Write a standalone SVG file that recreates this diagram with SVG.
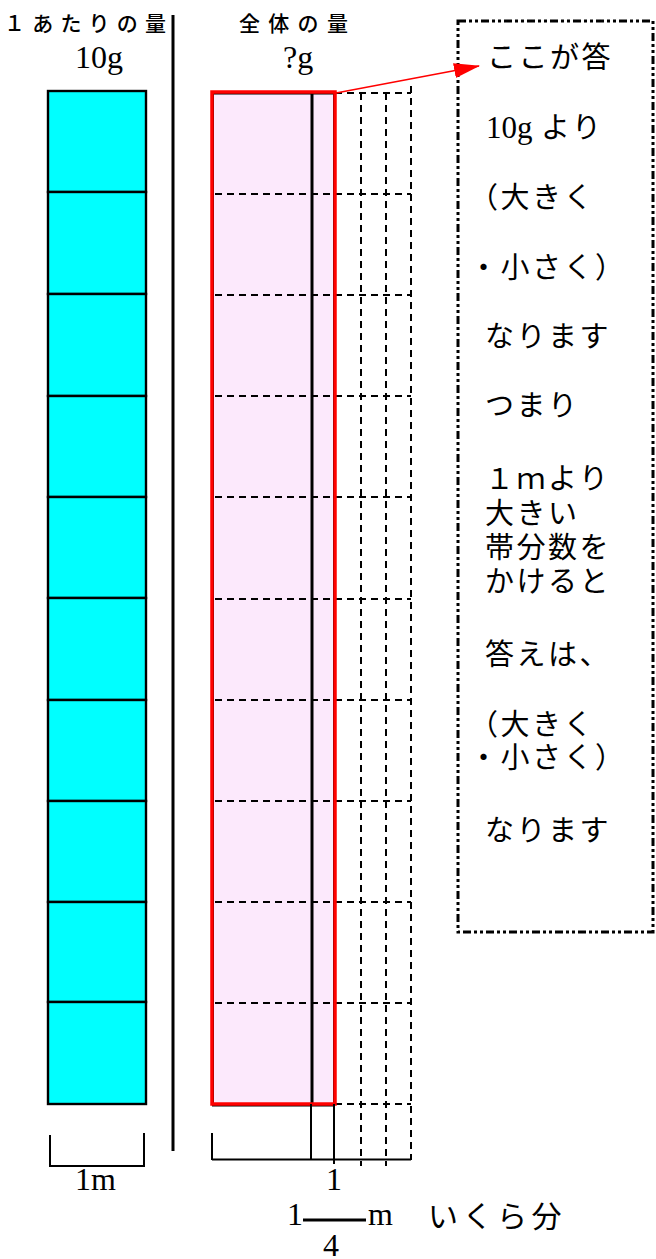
<svg xmlns="http://www.w3.org/2000/svg" width="656" height="1259" viewBox="0 0 656 1259">
<style>
.jp{font-family:"Noto Sans CJK JP","Noto Sans",sans-serif;fill:#000}
.hd{font-size:21px;font-weight:500}
.cb{font-size:29px;letter-spacing:2.5px}
.tm{font-family:"Liberation Serif","Times New Roman",serif;fill:#000}
.cy{fill:#00FFFF;stroke:#000;stroke-width:2.4}
.dash{stroke:#000;stroke-width:2;stroke-dasharray:7 5;fill:none}
.ln{stroke:#000;fill:none}
</style>
<defs>
<marker id="ah" markerUnits="userSpaceOnUse" markerWidth="26" markerHeight="18" viewBox="0 0 26 18" refX="25" refY="9" orient="auto">
<path d="M0,1.5 L26,9 L0,16.5 z" fill="#FF0000"/>
</marker>
</defs>
<rect width="656" height="1259" fill="#fff"/>

<g id="header-left">
<text class="jp hd" x="4" y="31" letter-spacing="7.2">１あたりの量</text>
<text class="tm" x="75" y="68" font-size="32">10g</text>
</g>
<g id="header-right">
<text class="jp hd" x="239" y="31" letter-spacing="8.3">全体の量</text>
<text class="tm" x="283" y="68" font-size="32">?g</text>
</g>

<g id="divider">
<line class="ln" x1="173" y1="15" x2="173" y2="1151" stroke-width="3"/>
</g>

<g id="unit-bar">
<rect class="cy" x="48" y="91" width="98" height="101"/>
<rect class="cy" x="48" y="192" width="98" height="102"/>
<rect class="cy" x="48" y="294" width="98" height="102"/>
<rect class="cy" x="48" y="396" width="98" height="101"/>
<rect class="cy" x="48" y="497" width="98" height="101"/>
<rect class="cy" x="48" y="598" width="98" height="102"/>
<rect class="cy" x="48" y="700" width="98" height="101"/>
<rect class="cy" x="48" y="801" width="98" height="101"/>
<rect class="cy" x="48" y="902" width="98" height="100"/>
<rect class="cy" x="48" y="1002" width="98" height="102"/>
</g>

<g id="unit-bracket">
<path class="ln" d="M50,1135 V1167 M144,1133 V1167 M50,1166 H144" stroke-width="2"/>
<text class="tm" x="75" y="1190" font-size="32">1m</text>
</g>

<g id="total-bar">
<path class="dash" d="M361,93 V1166 M386,93 V1166 M411,86 V1160 M335,93 H411 M335,1104 H411"/>
<rect x="213" y="93.5" width="121" height="1012" fill="#FCE9FC" stroke="#000" stroke-width="2"/>
<path class="dash" d="M215,194 H411 M215,295 H411 M215,396 H411 M215,497 H411 M215,599 H411 M215,700 H411 M215,801 H411 M215,902 H411 M215,1003 H411"/>
<line class="ln" x1="312" y1="93" x2="312" y2="1104" stroke-width="3"/>
<rect x="212" y="92" width="123" height="1012" fill="none" stroke="#FF0000" stroke-width="3.5"/>
</g>

<g id="total-bracket">
<path class="ln" d="M212,1133 V1160 M212,1159.5 H411 M311,1104 V1160 M334,1104 V1164" stroke-width="2"/>
<text class="tm" x="326" y="1190" font-size="32">1</text>
<text class="tm" x="287" y="1225" font-size="32">1</text>
<line class="ln" x1="303" y1="1220" x2="366" y2="1220" stroke-width="3"/>
<text class="tm" x="368" y="1225" font-size="32">m</text>
<text class="tm" x="323" y="1256" font-size="32">4</text>
<text class="jp" x="428" y="1227" font-size="30" letter-spacing="4.5">いくら分</text>
</g>

<g id="callout">
<rect x="458" y="21" width="195" height="911" fill="#fff" stroke="#000" stroke-width="3" stroke-dasharray="8 3 3 3 3 3"/>
<text class="jp cb" x="487" y="68">ここが答</text>
<text x="486" y="138"><tspan class="tm" font-size="31">10g</tspan><tspan class="jp cb" x="541">より</tspan></text>
<text class="jp cb" x="469" y="208">（大きく</text>
<text class="jp cb" x="469" y="278">・小さく）</text>
<text class="jp cb" x="485" y="347">なります</text>
<text class="jp cb" x="485" y="416">つまり</text>
<text class="jp cb" x="485" y="489">１ｍより</text>
<text class="jp cb" x="485" y="524">大きい</text>
<text class="jp cb" x="485" y="558">帯分数を</text>
<text class="jp cb" x="485" y="592">かけると</text>
<text class="jp cb" x="485" y="665">答えは、</text>
<text class="jp cb" x="469" y="735">（大きく</text>
<text class="jp cb" x="469" y="768">・小さく）</text>
<text class="jp cb" x="485" y="841">なります</text>
</g>

<g id="connectors">
<line x1="336" y1="93" x2="479" y2="66" stroke="#FF0000" stroke-width="1.5" marker-end="url(#ah)"/>
</g>
</svg>
